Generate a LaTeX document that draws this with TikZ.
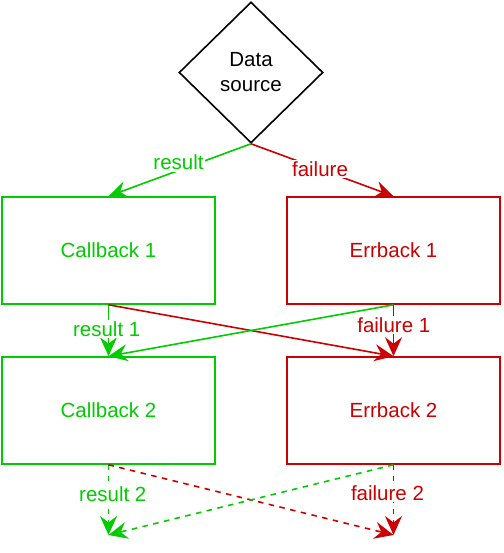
\documentclass[tikz,border=0pt]{standalone}
\usepackage{fontspec}
\setmainfont{Liberation Sans}
\usetikzlibrary{arrows.meta,shapes.geometric}
\definecolor{okgreen}{RGB}{0,204,0}
\definecolor{errred}{RGB}{204,0,0}
\begin{document}
\begin{tikzpicture}[x=1pt,y=-1pt,
  every node/.style={font=\fontsize{20.5}{25}\selectfont},
  box/.style={draw, line width=1.6pt, minimum width=213pt, minimum height=107pt, inner sep=0pt},
  okbox/.style={box, draw=okgreen, text=okgreen},
  errbox/.style={box, draw=errred, text=errred},
  link/.style={line width=1.6pt, -{Stealth[length=19pt,width=17pt,inset=6.5pt]}},
  dlink/.style={link, dash pattern=on 5.5pt off 5.5pt},
  lbl/.style={fill=white, inner sep=1.5pt, anchor=base},
]
\useasboundingbox (0,0) rectangle (503,553);
\node[diamond, draw=black, line width=1.6pt, minimum width=144pt, minimum height=141pt,
      inner sep=0pt, align=center] (src) at (251,72.5) {Data\\source};
\node[okbox]  (cb1) at (108.5,250.5) {Callback 1};
\node[errbox] (eb1) at (393.5,250.5) {Errback 1};
\node[okbox]  (cb2) at (108.5,410.5) {Callback 2};
\node[errbox] (eb2) at (393.5,410.5) {Errback 2};
\coordinate (end1) at (108.5,535);
\coordinate (end2) at (393.5,535);

\draw[link, okgreen] (src.south) -- (cb1.north);
\draw[link, errred]  (src.south) -- (eb1.north);
\draw[link, okgreen] (cb1.south) -- (cb2.north);
\draw[link, errred]  (cb1.south) -- (eb2.north);
\draw[link, errred]  (eb1.south) -- (eb2.north);
\draw[link, okgreen] (eb1.south) -- (cb2.north);
\draw[dlink, okgreen] (cb2.south) -- (end1);
\draw[dlink, errred]  (cb2.south) -- (end2);
\draw[dlink, errred]  (eb2.south) -- (end2);
\draw[dlink, okgreen] (eb2.south) -- (end1);

\node[lbl, text=okgreen] (l0) at (178.5,170) {result};
\node[lbl, text=errred]  (l1) at (320,176.5) {failure};
\node[lbl, text=okgreen] (l2) at (106.7,336.7) {result 1};
\node[lbl, text=errred]  (l3) at (393.8,332.3) {failure 1};
\node[lbl, text=okgreen] (l4) at (112.8,501.7) {result 2};
\node[lbl, text=errred]  (l5) at (387.5,500.7) {failure 2};
\end{tikzpicture}
\end{document}
